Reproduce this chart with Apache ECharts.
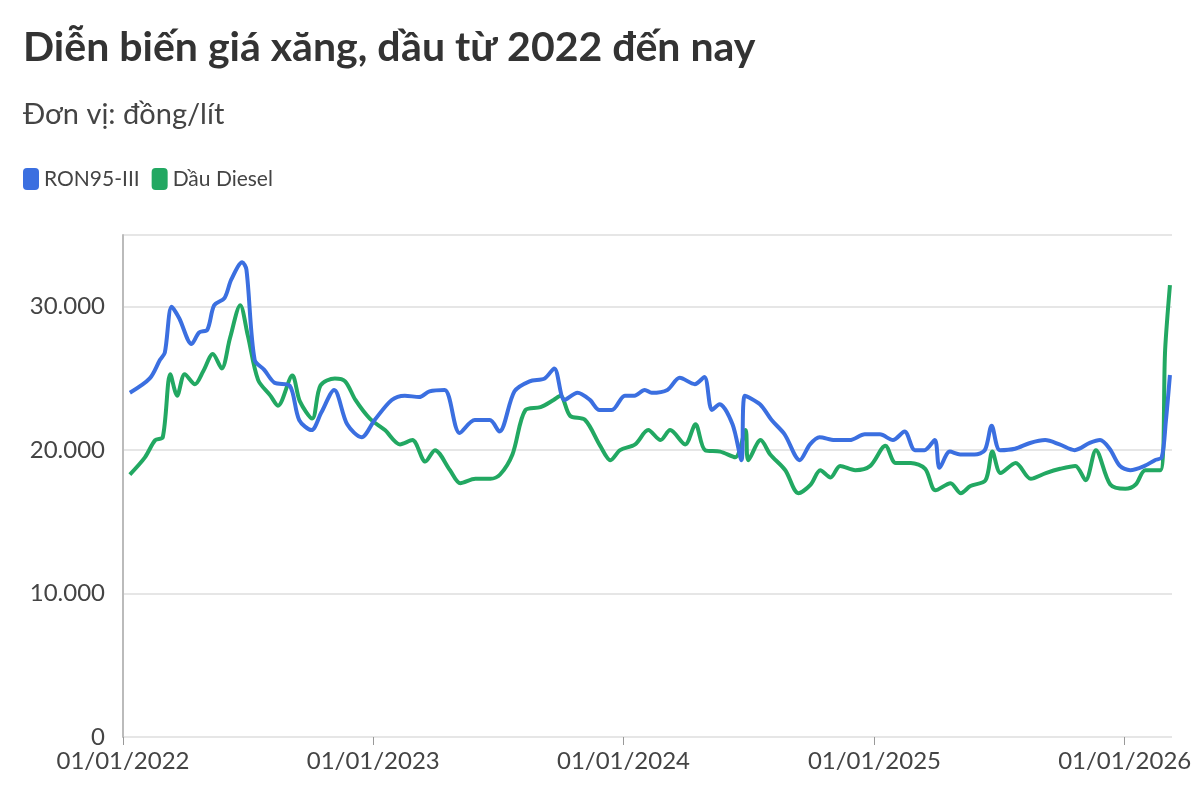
<!DOCTYPE html>
<html><head><meta charset="utf-8">
<script src="https://cdn.jsdelivr.net/npm/echarts@6/dist/echarts.min.js"></script>
<style>html,body{margin:0;padding:0;background:#fff}#c{width:1200px;height:786px}</style>
</head><body><div id="c"></div>
<script>
const ron95 = [
['2022-01-11',24000],['2022-02-09',25000],['2022-02-24',26300],['2022-03-03',26800],['2022-03-13',30000],['2022-03-24',29200],['2022-04-11',27400],['2022-04-22',28200],['2022-05-04',28400],['2022-05-14',30100],['2022-05-29',30600],['2022-06-08',31900],['2022-06-24',33100],['2022-06-30',32600],['2022-07-12',26300],['2022-07-26',25600],['2022-08-10',24700],['2022-09-01',24500],['2022-09-15',22100],['2022-10-03',21400],['2022-10-17',22600],['2022-11-05',24200],['2022-11-24',21800],['2022-12-15',20900],
['2023-01-03',22100],['2023-01-28',23500],['2023-02-16',23800],['2023-03-09',23700],['2023-03-24',24100],['2023-04-15',24200],['2023-05-07',21200],['2023-05-29',22100],['2023-06-20',22100],['2023-07-04',21300],['2023-07-26',24100],['2023-08-17',24800],['2023-09-08',25000],['2023-09-22',25700],['2023-10-07',23500],['2023-10-26',24000],['2023-11-13',23500],['2023-11-27',22800],['2023-12-15',22800],
['2024-01-03',23800],['2024-01-17',23800],['2024-02-01',24200],['2024-02-11',24000],['2024-03-05',24200],['2024-03-23',25050],['2024-04-14',24600],['2024-04-28',25100],['2024-05-09',22800],['2024-05-20',23200],['2024-06-08',21800],['2024-06-21',19300],['2024-06-26',23800],['2024-07-18',23200],['2024-08-04',22100],['2024-08-23',21100],['2024-09-14',19300],['2024-09-29',20400],['2024-10-13',20900],['2024-11-04',20700],['2024-11-26',20700],['2024-12-18',21100],
['2025-01-09',21100],['2025-01-28',20700],['2025-02-14',21300],['2025-03-01',20000],['2025-03-15',20000],['2025-03-30',20700],['2025-04-06',18770],['2025-04-21',19900],['2025-05-06',19700],['2025-05-27',19700],['2025-06-11',20000],['2025-06-21',21700],['2025-07-03',20000],['2025-07-25',20100],['2025-08-16',20500],['2025-09-07',20700],['2025-09-28',20400],['2025-10-20',20000],['2025-11-11',20500],['2025-11-26',20700],['2025-12-10',20100],['2025-12-25',18900],
['2026-01-09',18600],['2026-01-30',18900],['2026-02-14',19300],['2026-02-24',19500],['2026-03-02',22000],['2026-03-08',25240]
];
const diesel = [
['2022-01-11',18300],['2022-02-02',19500],['2022-02-17',20700],['2022-02-28',20900],['2022-03-11',25300],['2022-03-21',23800],['2022-04-01',25300],['2022-04-16',24600],['2022-04-28',25500],['2022-05-12',26700],['2022-05-25',25700],['2022-06-06',27800],['2022-06-21',30100],['2022-07-02',28000],['2022-07-17',24900],['2022-08-04',23800],['2022-08-15',23100],['2022-09-05',25200],['2022-09-16',23400],['2022-10-04',22200],['2022-10-16',24500],['2022-11-06',25000],['2022-11-21',24800],['2022-12-06',23500],['2022-12-27',22200],
['2023-01-18',21400],['2023-02-09',20400],['2023-02-27',20700],['2023-03-18',19200],['2023-04-01',20000],['2023-04-23',18600],['2023-05-08',17700],['2023-05-30',18000],['2023-06-21',18000],['2023-07-05',18300],['2023-07-23',19700],['2023-08-11',22800],['2023-09-02',23000],['2023-09-21',23500],['2023-10-01',23800],['2023-10-15',22400],['2023-11-06',22100],['2023-11-28',20300],['2023-12-13',19300],['2023-12-27',20000],
['2024-01-18',20400],['2024-02-06',21400],['2024-02-24',20700],['2024-03-09',21400],['2024-03-31',20400],['2024-04-15',21800],['2024-04-29',20000],['2024-05-21',19900],['2024-06-12',19500],['2024-06-27',21400],['2024-07-01',19300],['2024-07-19',20700],['2024-08-02',19700],['2024-08-24',18600],['2024-09-12',17000],['2024-09-30',17600],['2024-10-14',18600],['2024-10-29',18100],['2024-11-12',18900],['2024-12-04',18600],['2024-12-26',18900],
['2025-01-17',20300],['2025-02-01',19100],['2025-02-23',19100],['2025-03-16',18700],['2025-03-31',17200],['2025-04-22',17700],['2025-05-07',17000],['2025-05-21',17500],['2025-06-12',17900],['2025-06-22',19900],['2025-07-04',18400],['2025-07-26',19100],['2025-08-17',18000],['2025-09-08',18400],['2025-09-29',18700],['2025-10-21',18900],['2025-11-05',17900],['2025-11-20',20000],['2025-12-11',17600],
['2026-01-02',17300],['2026-01-17',17600],['2026-01-31',18600],['2026-02-22',18600],['2026-03-01',27000],['2026-03-08',31500]
];
const yearTicks = ['2022-01-01','2023-01-01','2024-01-01','2025-01-01','2026-01-01'];
const BLUE = '#3b6fe0', GREEN = '#22a862';
const font = 'Lato, "Noto Sans", sans-serif';
const ts = s => { const [y,m,d] = s.split('-').map(Number); return Date.UTC(y, m-1, d); };
const ticks = yearTicks.map(ts);
const chart = echarts.init(document.getElementById('c'));
const fmtNum = v => v === 0 ? '0' : String(v).replace(/\B(?=(\d{3})+(?!\d))/g, '.');
const blueData = ron95.map((p, i) => {
  const v = [ts(p[0]), p[1]];
  return i === ron95.length - 1 ? {value: v, label: {show: true, position: 'left', offset: [-2, -4], formatter: d => fmtNum(d.value[1]), color: '#2456d6', fontWeight: 'bold', fontSize: 19, fontFamily: font, backgroundColor: 'rgba(255,255,255,0.85)'}} : v;
});
const dieselData = diesel.map(p => [ts(p[0]), p[1]]);
chart.setOption({
  animation: false,
  textStyle: {fontFamily: font},
  title: [
    {text: 'Diễn biến giá xăng, dầu từ 2022 đến nay', left: 18, top: 22, textStyle: {fontSize: 41, fontWeight: 'bold', color: '#333', fontFamily: font}},
    {text: 'Đơn vị: đồng/lít', left: 18, top: 95, textStyle: {fontSize: 29, fontWeight: 'normal', color: '#444', fontFamily: font}}
  ],
  legend: {left: 18, top: 163, icon: 'roundRect', itemWidth: 16, itemHeight: 22, itemGap: 12,
    textStyle: {fontSize: 21, color: '#444', fontFamily: font}, data: ['RON95-III', 'Dầu Diesel']},
  grid: {left: 123, right: 28, top: 235, bottom: 49},
  xAxis: {type: 'value', min: ticks[0], max: ts('2026-03-11'),
    axisLine: {show: false},
    axisTick: {show: true, customValues: ticks, length: 8, lineStyle: {color: '#999'}},
    splitLine: {show: false},
    axisLabel: {customValues: ticks, fontSize: 24, color: '#444', margin: 12, fontFamily: font,
      formatter: v => '01/01/' + new Date(v).getUTCFullYear()}
  },
  yAxis: {type: 'value', min: 0, max: 35000, interval: 10000,
    axisLine: {show: true, lineStyle: {color: '#bbb', width: 2}},
    axisTick: {show: false},
    splitLine: {lineStyle: {color: '#e6e6e6', width: 2}},
    axisLabel: {fontSize: 24, color: '#444', margin: 18, showMaxLabel: false, fontFamily: font, formatter: fmtNum}
  },
  series: [
    {name: 'RON95-III', type: 'line', data: blueData, smooth: 0.3, showSymbol: false, symbol: 'none', color: BLUE, lineStyle: {width: 4, color: BLUE}, z: 3},
    {name: 'Dầu Diesel', type: 'line', data: dieselData, smooth: 0.3, showSymbol: false, symbol: 'none', color: GREEN, lineStyle: {width: 4, color: GREEN}, z: 2}
  ]
});
</script></body></html>
